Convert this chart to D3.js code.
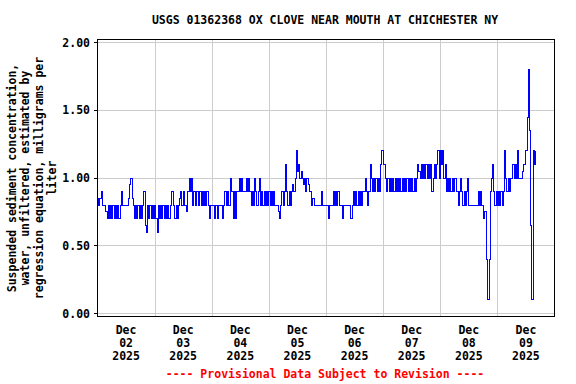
<!DOCTYPE html>
<html>
<head>
<meta charset="utf-8">
<script src="https://cdn.jsdelivr.net/npm/d3@7"></script>
<style>
  body { margin: 0; background: #fff; }
  text { font-family: "DejaVu Sans Mono", monospace; font-weight: bold; font-size: 11.5px; fill: #000; }
  line, rect, path { shape-rendering: crispEdges; }
</style>
</head>
<body>
<svg id="chart" width="576" height="384"></svg>
<script>
// half-hourly values, mg/L, starting at 00:00 each day
const dec02 = [0.85,0.8,0.85,0.9,0.8,0.8,0.8,0.75,0.7,0.8,0.7,0.8,0.7,0.8,0.7,0.8,0.7,0.8,0.7,0.8,0.9,0.8,0.8,0.8,
  0.8,0.8,0.85,0.95,1.0,0.85,0.8,0.7,0.8,0.7,0.8,0.7,0.8,0.7,0.8,0.9,0.65,0.6,0.8,0.7,0.8,0.7,0.8,0.7];
const dec03 = [0.8,0.7,0.6,0.8,0.7,0.8,0.7,0.8,0.7,0.8,0.7,0.8,0.7,0.8,0.9,0.9,0.8,0.7,0.8,0.7,0.8,0.85,0.9,0.8,
  0.9,0.8,0.8,0.75,0.9,1.0,0.9,1.0,0.8,0.9,0.8,0.9,0.9,0.8,0.9,0.8,0.9,0.8,0.9,0.8,0.9,0.8,0.7,0.8];
const dec04 = [0.8,0.8,0.7,0.8,0.8,0.7,0.8,0.8,0.8,0.7,0.8,0.9,0.8,0.9,0.8,0.8,1.0,0.9,0.7,0.9,0.7,0.9,0.9,1.0,
  0.9,1.0,0.9,0.9,0.9,1.0,0.9,1.0,0.9,0.8,0.9,0.8,1.0,0.9,0.8,0.9,1.0,0.8,0.9,0.8,0.9,0.8,0.9,0.8];
const dec05 = [0.9,0.8,0.9,0.8,0.9,0.8,0.8,0.8,0.75,0.7,0.8,0.9,0.8,0.9,1.1,0.9,0.8,0.9,0.8,0.9,0.95,0.9,1.0,1.2,
  1.05,1.1,1.0,1.05,1.0,0.95,1.0,0.9,1.0,0.95,0.9,0.9,0.8,0.85,0.8,0.8,0.8,0.8,0.8,0.8,0.9,0.8,0.8,0.8];
const dec06 = [0.8,0.8,0.7,0.8,0.8,0.8,0.9,0.8,0.9,0.8,0.9,0.8,0.8,0.8,0.7,0.8,0.8,0.8,0.8,0.8,0.8,0.7,0.8,0.9,
  0.8,0.9,0.8,0.9,0.8,0.9,0.8,0.9,0.9,1.0,0.9,0.8,0.9,1.1,1.0,0.9,1.0,0.9,1.0,0.9,1.0,0.9,1.1,1.2];
const dec07 = [1.1,1.1,1.0,0.9,1.0,0.9,1.0,0.9,1.0,0.9,1.0,0.9,1.0,0.9,1.0,0.9,1.0,0.9,1.0,0.9,1.0,0.9,1.0,0.9,
  1.0,0.9,1.0,0.9,1.0,1.1,1.05,1.0,1.1,1.0,1.1,1.0,1.1,1.0,1.1,1.0,1.1,0.9,1.0,1.1,1.0,1.1,1.2,1.0];
const dec08 = [1.2,1.1,1.2,1.0,1.1,0.9,1.0,0.9,1.0,0.9,1.0,0.9,1.0,1.0,0.9,0.8,0.9,1.0,0.9,0.8,0.9,0.8,0.9,1.0,
  0.8,0.8,0.8,0.8,0.8,0.8,0.8,0.8,0.9,0.8,0.9,0.8,0.7,0.75,0.75,0.4,0.1,0.4,0.9,1.0,1.1,0.9,0.8,0.9];
const dec09 = [0.8,0.9,0.8,0.9,0.8,0.9,1.2,1.0,0.9,1.0,0.9,1.0,1.0,1.1,1.0,1.1,1.0,1.2,1.0,1.0,1.0,1.05,1.1,1.1,
  1.2,1.45,1.8,1.35,0.65,0.1,1.2,1.1,1.2];

const days = [dec02, dec03, dec04, dec05, dec06, dec07, dec08, dec09];
const dayLabels = ['02', '03', '04', '05', '06', '07', '08', '09'];
const monthLabel = 'Dec';
const yearLabel = '2025';
const yTicks = [0, 0.5, 1.0, 1.5, 2.0];

const title = 'USGS 01362368 OX CLOVE NEAR MOUTH AT CHICHESTER NY';
const yLabel = ['Suspended sediment concentration,', 'water, unfiltered, estimated by',
  'regression equation, milligrams per', 'liter'];
const footer = '---- Provisional Data Subject to Revision ----';

const HALF_HOUR = 30 * 60 * 1000;
const start = Date.UTC(2025, 11, 2);
const data = [];
days.forEach((vals, d) => {
  vals.forEach((v, i) => {
    data.push({ t: new Date(start + d * 48 * HALF_HOUR + i * HALF_HOUR), v: v });
  });
});

const svg = d3.select('#chart');
const plotLeft = 97.5, plotRight = 554.5, plotTop = 39.5, plotBottom = 316.5;

const x = d3.scaleUtc()
  .domain([new Date(start), new Date(start + 8 * 48 * HALF_HOUR)])
  .range([plotLeft, plotRight]);
const y = d3.scaleLinear().domain([0, 2]).range([313.5, 42.5]);

// grid
const dayTimes = d3.range(1, 8).map(d => new Date(start + d * 48 * HALF_HOUR));
svg.append('g')
  .selectAll('line')
  .data(dayTimes)
  .enter()
  .append('line')
  .attr('x1', d => Math.round(x(d)) + 0.5)
  .attr('x2', d => Math.round(x(d)) + 0.5)
  .attr('y1', plotTop)
  .attr('y2', plotBottom)
  .style('stroke', '#cccccc');

svg.append('g')
  .selectAll('line')
  .data(yTicks)
  .enter()
  .append('line')
  .attr('x1', plotLeft)
  .attr('x2', plotRight)
  .attr('y1', d => y(d))
  .attr('y2', d => y(d))
  .style('stroke', '#cccccc');

// data line
svg.append('path')
  .datum(data)
  .attr('d', d3.line()
    .x(d => x(d.t))
    .y(d => y(d.v))
    .curve(d3.curveStepAfter))
  .style('fill', 'none')
  .style('stroke', '#0000ff')
  .style('stroke-width', 1);

// frame
svg.append('rect')
  .attr('x', plotLeft)
  .attr('y', plotTop)
  .attr('width', plotRight - plotLeft)
  .attr('height', plotBottom - plotTop)
  .style('fill', 'none')
  .style('stroke', '#000');

// y ticks
svg.append('g')
  .selectAll('line')
  .data(yTicks)
  .enter()
  .append('line')
  .attr('x1', plotLeft - 4)
  .attr('x2', plotLeft)
  .attr('y1', d => y(d))
  .attr('y2', d => y(d))
  .style('stroke', '#000');

svg.append('g')
  .selectAll('text')
  .data(yTicks)
  .enter()
  .append('text')
  .attr('x', 90)
  .attr('y', d => y(d) + 4)
  .attr('text-anchor', 'end')
  .text(d => d3.format('.2f')(d));

// x labels at noon
const xl = svg.append('g')
  .selectAll('text')
  .data(dayLabels)
  .enter()
  .append('text')
  .attr('text-anchor', 'middle')
  .attr('transform', (d, i) => 'translate(' + x(new Date(start + i * 48 * HALF_HOUR + 24 * HALF_HOUR)) + ',334)');
xl.append('tspan').attr('x', 0).attr('y', 0).text(monthLabel);
xl.append('tspan').attr('x', 0).attr('y', 13).text(d => d);
xl.append('tspan').attr('x', 0).attr('y', 26).text(yearLabel);

// title
svg.append('text')
  .attr('x', 325)
  .attr('y', 24)
  .attr('text-anchor', 'middle')
  .text(title);

// y axis label
svg.append('text')
  .attr('transform', 'translate(16,178) rotate(-90)')
  .attr('text-anchor', 'middle')
  .selectAll('tspan')
  .data(yLabel)
  .enter()
  .append('tspan')
  .attr('x', 0)
  .attr('y', (d, i) => i * 13.3)
  .text(d => d);

// footer
svg.append('text')
  .attr('x', 325)
  .attr('y', 378)
  .attr('text-anchor', 'middle')
  .style('fill', '#ff0000')
  .text(footer);
</script>
</body>
</html>
